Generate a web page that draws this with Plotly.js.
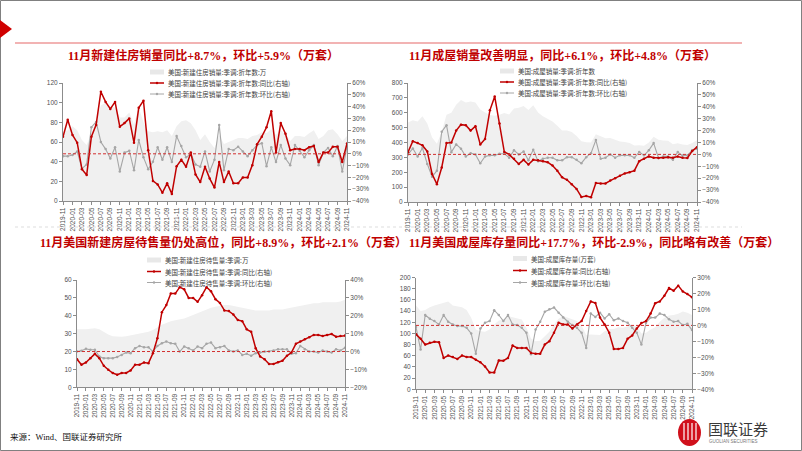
<!DOCTYPE html>
<html><head><meta charset="utf-8">
<script src="https://cdn.plot.ly/plotly-3.0.1.min.js"></script>
<style>html,body{margin:0;padding:0;background:#fff;}#chart{width:802px;height:451px;}</style>
</head><body><div id="chart"></div>
<script>
const months = ["2019-11","2019-12",
"2020-01","2020-02","2020-03","2020-04","2020-05","2020-06","2020-07","2020-08","2020-09","2020-10","2020-11","2020-12",
"2021-01","2021-02","2021-03","2021-04","2021-05","2021-06","2021-07","2021-08","2021-09","2021-10","2021-11","2021-12",
"2022-01","2022-02","2022-03","2022-04","2022-05","2022-06","2022-07","2022-08","2022-09","2022-10","2022-11","2022-12",
"2023-01","2023-02","2023-03","2023-04","2023-05","2023-06","2023-07","2023-08","2023-09","2023-10","2023-11","2023-12",
"2024-01","2024-02","2024-03","2024-04","2024-05","2024-06","2024-07","2024-08","2024-09","2024-10","2024-11"];
const tickLabels = ["2019-11","2020-01","2020-03","2020-05","2020-07","2020-09","2020-11",
"2021-01","2021-03","2021-05","2021-07","2021-09","2021-11",
"2022-01","2022-03","2022-05","2022-07","2022-09","2022-11",
"2023-01","2023-03","2023-05","2023-07","2023-09","2023-11",
"2024-01","2024-03","2024-05","2024-07","2024-09","2024-11"];

// Chart 1: new home sales (万, SAAR), YoY %, MoM %
const nhsArea = [70,72,76,72,62,57,69,84,97,100,96,95,85,85,90,78,95,80,71,70,71,70,72,66,76,81,82,79,72,62,68,60,54,67,58,60,62,64,64,63,66,67,70,69,73,67,72,68,61,66,66,65,69,72,63,66,72,73,68,61,66];
const nhsYoY = [14.5,28.8,16,9.4,-13,-18,14.5,24.5,52.6,44,38,44,23,26,30,9.4,39,45,3,-23,-26,-33,-25,-34,-10.5,-5,-11,1,-17.5,-24,-11,-21,-28.6,-7,-24,-15,-25,-25,-20,-20,-9.6,8,14.5,22.5,36,1,26,17,3,4,4,3,5.5,6.6,-7,1,1,6,6,-7,8.7];
const nhsMoM = [-2,-2,-1,2,-12.5,-9,22.5,27,10,4,-4,5.5,-15,1,2.6,-14,11.7,-3,-13,-6.8,5.5,-5,5.5,-7,15,6.6,-3,0,-9,-11,2,-15,-5,24.5,-14,4,3,6,2,-2,3,7.4,9,-10.5,5.5,-7,7.4,-4,-9.6,7.4,2.6,-3,3,7.4,-9.6,1,5,-2,6.6,-15,5.9];

// Chart 2: existing home sales
const ehsArea = [535,550,542,576,527,433,391,472,586,600,654,685,669,676,669,622,601,585,580,586,599,588,629,634,646,618,650,602,577,561,541,512,481,480,471,443,409,402,400,455,444,428,430,416,407,404,396,379,382,378,400,438,419,414,411,389,395,386,384,396,415];
const ehsYoY = [1.9,11,9.5,7.6,2.5,-16.5,-25,-11,9.5,10,20,25,24.6,20,23.7,8.4,13,37,48.7,26,2,0,-3.7,-8,-4.6,-8.5,-4.6,-5,-5.7,-6.6,-9.4,-13.7,-19.3,-21.3,-25,-29,-35.7,-35,-36,-24,-24.4,-24.4,-22,-20,-18,-16,-15,-13.7,-5.7,-3.7,-1.7,-2.8,-3,-2.8,-2.3,-2.8,-1.7,-2.8,-3,2.8,6.1];
const ehsMoM = [0,5,-1.7,5.4,-8,-18.8,-13.7,19,24.6,1.9,8.4,4.8,-1.7,1,0,-7.4,-1.7,-0.8,-0.8,0.6,0.6,-2.8,3.4,0,2.5,-5,4,-5.7,-3.7,-2.8,-2.8,-5,-5,-2.3,-2.3,-4.6,-7.4,-2.3,1,12,-3.7,-2.8,0,-2.8,-0.8,-0.8,-0.8,-2.8,2,-0.8,3.4,9.5,-3,-1.7,-1.7,-4.6,2,-1,-0.8,3.5,4.8];

// Chart 3: new homes for sale
const nhiArea = [32.5,32.4,32.5,32.8,33.0,32.5,31.0,29.5,28.5,28.2,28.2,28.5,29.0,29.8,30.3,30.5,31.0,32.0,33.5,35.0,36.0,37.0,37.5,38.0,38.5,39.5,40.5,41.5,42.5,43.5,44.5,45.0,45.5,46.0,46.0,45.5,45.0,44.5,44.0,43.5,43.0,43.0,43.0,43.0,43.5,43.5,43.5,44.0,44.5,45.0,45.5,46.0,46.5,47.0,47.0,47.5,47.5,47.5,47.5,48.0,49.0];
const nhiYoY = [-4.3,-7.4,-6.1,-3.7,-1.3,-3.7,-8,-10.2,-12,-13,-12,-12,-10.6,-7.4,-7.4,-6.1,-6.5,-1,7.4,22,26,32.4,32.4,36,34.8,30,30,27.8,31.5,36,33.7,29.3,27.2,23,22.6,20.7,17.6,17,12.4,11,1.9,-2.8,-4.3,-7,-7,-6,-5.2,-2.4,-0.6,4.3,5.6,6.9,8,9.3,9.3,8.7,9.3,9.8,8.3,8.7,8.9];
const nhiMoM = [0,0.5,1.5,1,1,-2.8,-3.7,-3.7,-3.7,-3.1,-1.9,-0.6,-0.9,1.9,3.1,2.4,2.4,0,3.1,4.6,5.6,4.6,4.3,0,2.8,1.9,0.6,2.8,1.9,4.3,5,1.9,2.4,3.1,0.6,0,0.6,-1.9,-1.3,-2.4,-0.9,-0.6,0,0,0.6,1.3,1.3,1.3,-1.3,-0.9,3.1,1.3,0,0,-0.6,0.6,0,-0.6,1.3,0.6,2.1];

// Chart 4: existing home inventory
const ehiArea = [150,140,142,147,150,152,155,157,150,149,147,142,128,107,104,103,107,116,123,125,131,129,127,125,110,91,86,87,95,103,116,126,131,128,125,122,114,97,98,98,97,104,108,108,111,110,113,115,113,100,101,107,111,121,128,132,133,135,139,137,133];
const ehiYoY = [-5.6,-8.4,-12,-10.9,-10.3,-10.5,-20.4,-18.9,-19.8,-21,-18.9,-19.8,-19.8,-21.5,-23.1,-25.7,-29.5,-29.5,-21.9,-22.1,-20.4,-12.6,-14.1,-14.1,-14.1,-17.2,-17.7,-17.7,-12,-9.9,-4.6,1.7,0.6,0.6,-1.9,0.6,2.7,9,15,14,4.9,0.6,-4.6,-14.7,-14.7,-14.1,-8.4,-6.3,-1.9,1.5,2.7,7.4,13.9,15,18.6,23.4,21.7,24.9,21.3,19.6,17.7];
const ehiMoM = [-1,-15.1,6.5,4.2,2.7,0.6,6.5,2.3,0.6,-0.4,-0.4,-1.5,-5,-17.7,-2,1.7,2.7,9.5,6.5,2.7,6.5,0.6,0.2,-1.5,-4.6,-18,-2.5,2.3,8.6,10.1,11.2,8,4.9,2.3,0.2,-1.5,-4.6,-14.1,7.4,5.3,8,4.4,7,3.2,4.4,2.7,1.7,-1.5,-4.6,-12,1.7,4.9,4.9,7.4,6.5,3.8,2.3,2.7,0.2,1,-2.9];

const titles = ["11月新建住房销量同比+8.7%，环比+5.9%（万套）",
"11月成屋销量改善明显，同比+6.1%，环比+4.8%（万套）",
"11月美国新建房屋待售量仍处高位，同比+8.9%，环比+2.1%（万套）",
"11月美国成屋库存量同比+17.7%，环比-2.9%，同比略有改善（万套）"];
const legendNames = [
 ["美国:新建住房销量:季调:折年数:万","美国:新建住房销量:季调:折年数:同比(右轴)","美国:新建住房销量:季调:折年数:环比(右轴)"],
 ["美国:成屋销量:季调:折年数","美国:成屋销量:季调:折年数:同比(右轴)","美国:成屋销量:季调:折年数:环比(右轴)"],
 ["美国:新建住房待售量:季调:万","美国:新建住房待售量:季调:同比(右轴)","美国:新建住房待售量:季调:环比(右轴)"],
 ["美国:成屋库存量(万套)","美国:成屋库存量:同比(右轴)","美国:成屋库存量:环比(右轴)"]];

const W=802,H=451;
const fx=v=>v/W, fy=v=>1-v/H;
const RED='#C00000', GREY='#A6A6A6', AREA='#F0F0F0', AXC='#8C8C8C';
const CJK='Noto Sans CJK SC';
const TF='Liberation Serif, Noto Sans CJK SC';

const panels = [
 {px:[63,347], py:[83,201], left:[0,120], ldt:20, right:[-40,60], area:nhsArea, yoy:nhsYoY, mom:nhsMoM, tx:203, ty:56, lx:150, ly:[72,83,94]},
 {px:[408,697], py:[83,202], left:[0,800], ldt:100, right:[-40,60], area:ehsArea, yoy:ehsYoY, mom:ehsMoM, tx:562, ty:56, lx:500, ly:[71,82,93]},
 {px:[77,345], py:[280,387.3], left:[0,60], ldt:10, right:[-20,40], area:nhiArea, yoy:nhiYoY, mom:nhiMoM, tx:224, ty:242, lx:147, ly:[260,271.5,282.5]},
 {px:[416,692], py:[277.5,389.3], left:[0,200], ldt:20, right:[-40,30], area:ehiArea, yoy:ehiYoY, mom:ehiMoM, tx:594, ty:242, lx:513, ly:[258.5,270.5,282.5]}
];

const data=[]; const layout={width:W,height:H,margin:{l:0,r:0,t:0,b:0},paper_bgcolor:'#fff',plot_bgcolor:'#fff',showlegend:false,
 font:{family:'Liberation Sans, '+CJK,size:7,color:'#404040'},shapes:[],annotations:[]};

panels.forEach((p,i)=>{
 const xn = i===0?'xaxis':'xaxis'+(i+1), xr = i===0?'x':'x'+(i+1);
 const ln=2*i+1, rn=2*i+2;
 const lName = ln===1?'yaxis':'yaxis'+ln, lRef = ln===1?'y':'y'+ln;
 const rName='yaxis'+rn, rRef='y'+rn;
 layout[xn]={domain:[fx(p.px[0]),fx(p.px[1])],anchor:lRef,type:'category',range:[0,60],
   tickmode:'array',tickvals:tickLabels,ticktext:tickLabels,tickangle:-90,tickfont:{size:6.5,color:'#505050'},
   showline:true,linecolor:AXC,linewidth:1,ticks:'outside',ticklen:3,tickcolor:AXC,showgrid:false,zeroline:false,fixedrange:true};
 layout[lName]={domain:[fy(p.py[1]),fy(p.py[0])],anchor:xr,range:p.left,dtick:p.ldt,tick0:0,
   showline:true,linecolor:AXC,linewidth:1,ticks:'outside',ticklen:3,tickcolor:AXC,showgrid:false,zeroline:false,tickfont:{size:6.5,color:'#505050'}};
 layout[rName]={overlaying:lRef,side:'right',anchor:xr,range:p.right,dtick:10,tick0:0,ticksuffix:'%',
   showline:true,linecolor:AXC,linewidth:1,ticks:'outside',ticklen:3,tickcolor:AXC,showgrid:false,zeroline:false,tickfont:{size:6.5,color:'#505050'}};
 data.push({x:months,y:p.area,xaxis:xr,yaxis:lRef,type:'scatter',mode:'lines',fill:'tozeroy',fillcolor:AREA,line:{width:0,color:AREA},hoverinfo:'skip'});
 data.push({x:months,y:p.mom,xaxis:xr,yaxis:rRef,type:'scatter',mode:'lines+markers',line:{color:GREY,width:1.1},marker:{size:2.5,color:GREY}});
 data.push({x:months,y:p.yoy,xaxis:xr,yaxis:rRef,type:'scatter',mode:'lines+markers',line:{color:RED,width:1.5},marker:{size:2.5,color:RED}});
 layout.shapes.push({type:'line',xref:xr+' domain',x0:0,x1:1,yref:rRef,y0:0,y1:0,line:{color:'#D23030',width:1,dash:'3px,2px'},layer:'above'});
 // title
 layout.annotations.push({xref:'paper',yref:'paper',x:fx(p.tx),y:fy(p.ty),xanchor:'center',yanchor:'middle',showarrow:false,
   text:'<b>'+titles[i]+'</b>',font:{family:TF,size:12,color:RED}});
 // legend
 const lx=p.lx;
 layout.shapes.push({type:'rect',xref:'paper',yref:'paper',x0:fx(lx),x1:fx(lx+14),y0:fy(p.ly[0]+2.5),y1:fy(p.ly[0]-2.5),fillcolor:'#E8E8E8',line:{width:0}});
 layout.shapes.push({type:'line',xref:'paper',yref:'paper',x0:fx(lx),x1:fx(lx+14),y0:fy(p.ly[1]),y1:fy(p.ly[1]),line:{color:RED,width:1.5}});
 layout.shapes.push({type:'circle',xref:'paper',yref:'paper',x0:fx(lx+5.8),x1:fx(lx+8.2),y0:fy(p.ly[1]+1.2),y1:fy(p.ly[1]-1.2),fillcolor:RED,line:{width:0}});
 layout.shapes.push({type:'line',xref:'paper',yref:'paper',x0:fx(lx),x1:fx(lx+14),y0:fy(p.ly[2]),y1:fy(p.ly[2]),line:{color:GREY,width:1}});
 layout.shapes.push({type:'circle',xref:'paper',yref:'paper',x0:fx(lx+5.8),x1:fx(lx+8.2),y0:fy(p.ly[2]+1.2),y1:fy(p.ly[2]-1.2),fillcolor:GREY,line:{width:0}});
 for(let r=0;r<3;r++){
  layout.annotations.push({xref:'paper',yref:'paper',x:fx(lx+16),y:fy(p.ly[r]),xanchor:'left',yanchor:'middle',showarrow:false,
    text:legendNames[i][r],font:{family:CJK,size:6.5,color:'#404040'}});
 }
});

// decorations
layout.shapes.push({type:'rect',xref:'paper',yref:'paper',x0:fx(0.5),x1:fx(801.5),y0:fy(450.5),y1:fy(0.5),line:{color:'#808080',width:1},fillcolor:'rgba(0,0,0,0)'});
layout.shapes.push({type:'path',xref:'paper',yref:'paper',path:`M ${fx(0)},${fy(20)} L ${fx(12)},${fy(29)} L ${fx(0)},${fy(38)} Z`,fillcolor:'#D00000',line:{width:0}});
layout.shapes.push({type:'line',xref:'paper',yref:'paper',x0:fx(15),x1:fx(742),y0:fy(43),y1:fy(43),line:{color:'#EE9A9A',width:1.5}});
layout.shapes.push({type:'line',xref:'paper',yref:'paper',x0:fx(15),x1:fx(742),y0:fy(227),y1:fy(227),line:{color:'#DDDDDD',width:1,dash:'dot'}});
// logo
layout.shapes.push({type:'circle',xref:'paper',yref:'paper',x0:fx(678),x1:fx(701),y0:fy(446),y1:fy(419),fillcolor:'#D0101B',line:{width:0}});
[684,688,692,696].forEach(xx=>{
 layout.shapes.push({type:'line',xref:'paper',yref:'paper',x0:fx(xx),x1:fx(xx),y0:fy(440),y1:fy(423),line:{color:'#ffffff',width:1.2}});
});
layout.annotations.push({xref:'paper',yref:'paper',x:fx(706),y:fy(428),xanchor:'left',yanchor:'middle',showarrow:false,text:'国联证券',font:{family:CJK,size:15,color:'#3a3a3a'}});
layout.annotations.push({xref:'paper',yref:'paper',x:fx(707),y:fy(441.5),xanchor:'left',yanchor:'middle',showarrow:false,text:'GUOLIAN SECURITIES',font:{family:'Liberation Sans',size:4.5,color:'#777'}});
layout.annotations.push({xref:'paper',yref:'paper',x:fx(8),y:fy(437),xanchor:'left',yanchor:'middle',showarrow:false,text:'来源：Wind、国联证券研究所',font:{family:TF,size:8.5,color:'#111'}});

Plotly.newPlot('chart',data,layout,{displayModeBar:false,staticPlot:true});
</script></body></html>
